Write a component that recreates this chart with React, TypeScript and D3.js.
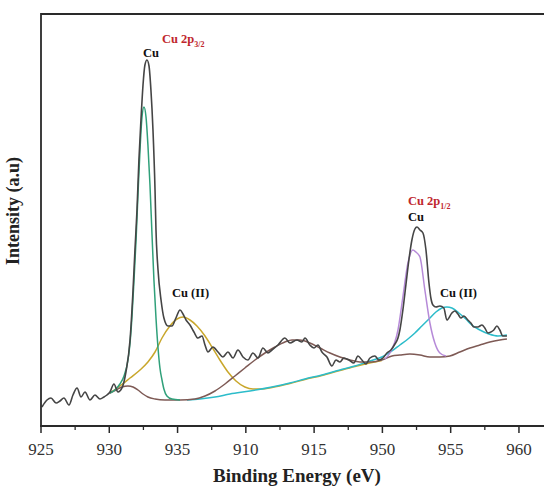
import React from "react";
import * as d3 from "d3";

// Cu 2p XPS spectrum: measured curve, fitted components and background.
// Each array holds [binding energy (eV), intensity (a.u.)].

const MEASURED: [number, number][] = [
  [925.07, 190], [925.44, 260], [925.73, 280], [926.1, 230], [926.39, 250], [926.68, 280],
  [927.05, 210], [927.34, 310], [927.64, 380], [927.93, 290], [928.22, 340], [928.59, 260],
  [928.95, 310], [929.32, 270], [929.61, 290], [929.83, 310], [930.05, 340], [930.34, 420],
  [930.64, 340], [930.93, 380], [931.22, 540], [931.52, 860], [931.74, 1360], [931.88, 1760],
  [932.03, 2160], [932.17, 2660], [932.32, 3060], [932.47, 3410], [932.61, 3610], [932.76, 3660],
  [932.91, 3600], [933.05, 3360], [933.2, 2960], [933.35, 2360], [933.42, 1960], [933.57, 1560],
  [933.79, 1260], [934.0, 1080], [934.3, 1000], [934.59, 1000], [934.88, 1080], [935.18, 1160],
  [935.4, 1120], [935.62, 1060], [935.91, 1010], [936.2, 940], [936.49, 880], [936.79, 900],
  [937.01, 810], [937.23, 740], [937.59, 790], [937.96, 740], [938.32, 690], [938.69, 740],
  [939.06, 680], [939.42, 760], [939.79, 690], [940.15, 660], [940.52, 730], [940.89, 680],
  [941.25, 780], [941.62, 730], [941.91, 760], [942.35, 810], [942.86, 880], [943.23, 830],
  [943.74, 860], [944.11, 840], [944.33, 880], [944.69, 810], [944.99, 780], [945.28, 810],
  [945.57, 740], [945.94, 690], [946.3, 600], [946.6, 660], [946.89, 640], [947.18, 680],
  [947.55, 660], [947.91, 630], [948.21, 700], [948.5, 660], [948.79, 620], [949.09, 680],
  [949.45, 700], [949.74, 660], [950.04, 680], [950.33, 730], [950.62, 760], [950.92, 820],
  [951.14, 880], [951.28, 960], [951.5, 1160], [951.72, 1410], [951.94, 1660], [952.16, 1860],
  [952.38, 1970], [952.53, 1990], [952.75, 1960], [952.97, 1930], [953.19, 1760], [953.41, 1430],
  [953.55, 1280], [953.7, 1210], [953.92, 1190], [954.21, 1200], [954.5, 1180], [954.72, 1060],
  [955.09, 1130], [955.31, 1150], [955.53, 1120], [955.75, 1080], [955.97, 1100], [956.26, 1060],
  [956.48, 1030], [956.7, 990], [956.99, 990], [957.29, 1010], [957.5, 980], [957.73, 930],
  [957.94, 940], [958.16, 960], [958.38, 1000], [958.6, 960], [958.82, 900], [959.12, 900],
];

// Cu 2p3/2 metallic component
const CU_2P32: [number, number][] = [
  [930.05, 330], [930.49, 370], [930.78, 420], [931.08, 500], [931.37, 660], [931.52, 830],
  [931.66, 1090], [931.81, 1460], [931.96, 1860], [932.1, 2310], [932.25, 2760], [932.39, 3080],
  [932.54, 3190], [932.69, 3090], [932.83, 2810], [932.98, 2410], [933.13, 1910], [933.27, 1460],
  [933.42, 1080], [933.57, 780], [933.71, 580], [933.86, 460], [934.0, 370], [934.22, 300],
  [934.59, 270], [935.18, 260],
];

// Cu(II) 2p3/2 component
const CU2_2P32: [number, number][] = [
  [930.05, 330], [930.78, 400], [931.52, 480], [932.25, 560], [932.83, 640], [933.35, 740],
  [933.86, 880], [934.44, 1000], [934.96, 1070], [935.4, 1090], [935.91, 1060], [936.42, 1000],
  [937.01, 900], [937.52, 790], [938.1, 660], [938.69, 540], [939.28, 450], [939.93, 390],
  [940.52, 370], [941.18, 370], [941.91, 385], [943.23, 425], [944.33, 465], [945.57, 505],
  [946.89, 555], [947.99, 595], [949.23, 635], [949.96, 655],
];

// Cu 2p1/2 metallic component
const CU_2P12: [number, number][] = [
  [950.18, 670], [950.55, 730], [951.14, 960], [951.5, 1290], [951.87, 1630], [952.23, 1760],
  [952.45, 1740], [952.75, 1690], [953.11, 1360], [953.48, 1030], [953.84, 830], [954.21, 730],
  [954.65, 700],
];

// Cu(II) 2p1/2 component
const CU2_2P12: [number, number][] = [
  [935.69, 260], [936.64, 270], [937.74, 290], [938.84, 320], [940.3, 350], [941.91, 390],
  [943.23, 430], [944.33, 470], [945.57, 510], [946.89, 560], [947.99, 600], [949.09, 650],
  [949.96, 690], [950.7, 750], [951.28, 810], [951.87, 870], [952.38, 930], [952.89, 1000],
  [953.41, 1070], [953.92, 1140], [954.36, 1180], [954.72, 1190], [955.09, 1180], [955.6, 1130],
  [956.11, 1070], [956.55, 1010], [957.14, 960], [957.8, 920], [958.46, 900], [959.12, 910],
];

// Background with shake-up satellite
const BACKGROUND: [number, number][] = [
  [930.05, 330], [930.49, 360], [930.93, 390], [931.37, 400], [931.74, 390], [932.1, 360],
  [932.47, 320], [932.83, 290], [933.35, 270], [934.08, 260], [935.18, 260], [936.27, 270],
  [937.01, 300], [937.74, 350], [938.47, 420], [939.2, 500], [939.93, 580], [940.67, 660],
  [941.4, 730], [942.13, 790], [942.86, 840], [943.38, 860], [943.96, 860], [944.69, 830],
  [945.43, 780], [946.16, 730], [946.89, 690], [947.62, 660], [948.35, 640], [949.23, 640],
  [949.96, 660], [950.7, 700], [951.28, 710], [952.01, 720], [952.75, 710], [953.48, 690],
  [954.21, 690], [954.94, 700], [955.67, 740], [956.41, 780], [957.14, 810], [957.87, 840],
  [958.6, 860], [959.12, 870],
];

const MAJOR_TICKS = [925, 930, 935, 940, 945, 950, 955, 960];
const TICK_LABELS = ["925", "930", "935", "910", "915", "950", "955", "960"];
const MINOR_TICKS = [927.5, 932.5, 937.5, 942.5, 947.5, 952.5, 957.5];

const SERIES = [
  { name: "Cu(II) 2p3/2", data: CU2_2P32, color: "#c9a72c" },
  { name: "Cu(II) 2p1/2", data: CU2_2P12, color: "#2cbcca" },
  { name: "Background", data: BACKGROUND, color: "#7e5a55" },
  { name: "Cu 2p3/2", data: CU_2P32, color: "#30a07a" },
  { name: "Cu 2p1/2", data: CU_2P12, color: "#b68ad8" },
];

const W = 544;
const H = 491;
const LEFT = 41;
const TOP = 14;
const BOTTOM = 426;

export default function App() {
  const x = d3.scaleLinear().domain([925, 962.2]).range([LEFT, 549]);
  const y = d3.scaleLinear().domain([0, 4120]).range([BOTTOM, TOP]);
  const line = d3
    .line<[number, number]>()
    .x((d) => x(d[0]))
    .y((d) => y(d[1]))
    .curve(d3.curveMonotoneX);

  const serif = "'Liberation Serif', 'Times New Roman', serif";
  const bold = { fontFamily: serif, fontWeight: 700 } as const;

  return (
    <svg
      width={W}
      height={H}
      style={{ position: "absolute", left: 0, top: 0, background: "#fff" }}
    >
      <defs>
        <clipPath id="plot">
          <rect x={LEFT} y={TOP} width={W - LEFT} height={BOTTOM - TOP} />
        </clipPath>
      </defs>

      <g clipPath="url(#plot)" fill="none" strokeLinejoin="round">
        {SERIES.map((s) => (
          <path key={s.name} d={line(s.data) ?? ""} stroke={s.color} strokeWidth={1.5} />
        ))}
        <path d={line(MEASURED) ?? ""} stroke="#454545" strokeWidth={1.6} />
      </g>

      {/* frame */}
      <line x1={LEFT} x2={W} y1={TOP} y2={TOP} stroke="#2a2a2a" strokeWidth={1.8} />
      <line x1={LEFT} x2={LEFT} y1={TOP - 0.9} y2={BOTTOM} stroke="#2a2a2a" strokeWidth={1.8} />
      <line x1={LEFT - 0.9} x2={W} y1={BOTTOM} y2={BOTTOM} stroke="#2a2a2a" strokeWidth={1.8} />

      {MAJOR_TICKS.map((t, i) => (
        <g key={t}>
          <line x1={x(t)} x2={x(t)} y1={BOTTOM} y2={BOTTOM + 7} stroke="#2a2a2a" strokeWidth={1.5} />
          <text
            x={x(t)}
            y={455}
            textAnchor="middle"
            fontFamily={serif}
            fontSize={17}
            fill="#333"
          >
            {TICK_LABELS[i]}
          </text>
        </g>
      ))}
      {MINOR_TICKS.map((t) => (
        <line key={t} x1={x(t)} x2={x(t)} y1={BOTTOM} y2={BOTTOM + 4} stroke="#2a2a2a" strokeWidth={1.3} />
      ))}

      <text x={297} y={482} textAnchor="middle" fontSize={19} fill="#222" {...bold}>
        Binding Energy (eV)
      </text>
      <text
        transform={`translate(19, 211) rotate(-90)`}
        textAnchor="middle"
        fontSize={18}
        fill="#222"
        {...bold}
      >
        Intensity (a.u)
      </text>

      {/* peak annotations */}
      <text x={x(933.05)} y={y(3690)} textAnchor="middle" fontSize={12.5} fill="#111" {...bold}>
        Cu
      </text>
      <text x={x(933.86)} y={y(3830)} fontSize={12.5} fill="#c0272d" {...bold}>
        Cu 2p<tspan fontSize={8} dy={4}>3/2</tspan>
      </text>
      <text x={x(934.59)} y={y(1290)} fontSize={12.5} fill="#111" {...bold}>
        Cu (II)
      </text>
      <text x={x(951.87)} y={y(2210)} fontSize={12.5} fill="#c0272d" {...bold}>
        Cu 2p<tspan fontSize={8} dy={4}>1/2</tspan>
      </text>
      <text x={x(951.87)} y={y(2050)} fontSize={12.5} fill="#111" {...bold}>
        Cu
      </text>
      <text x={x(954.21)} y={y(1290)} fontSize={12.5} fill="#111" {...bold}>
        Cu (II)
      </text>
    </svg>
  );
}
